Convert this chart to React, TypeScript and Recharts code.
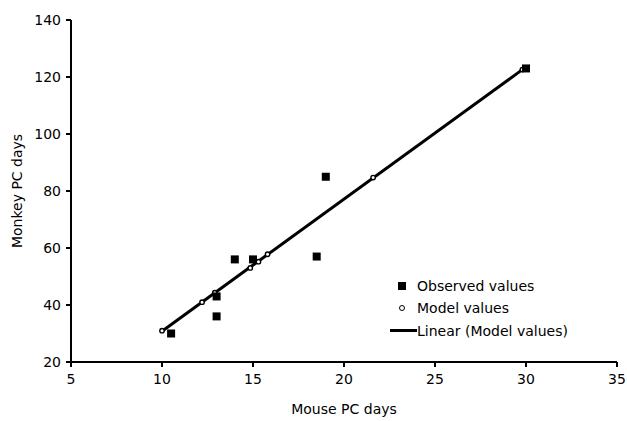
import React from 'react';
import {
    ScatterChart,
    Scatter,
    XAxis,
    YAxis
} from 'recharts';

// Observed (filled squares)
const observedX = [10.5, 13, 13, 14, 15, 18.5, 19, 30];
const observedY = [30, 36, 43, 56, 56, 57, 85, 123];

// Model values (small open circles on the trend line)
const modelX = [10, 12.2, 12.9, 14.85, 15.3, 15.8, 21.6, 29.8];
const modelY = [31, 41, 44.3, 53, 55.2, 57.8, 84.7, 122.6];

const xTicks = [5, 10, 15, 20, 25, 30, 35];
const yTicks = [20, 40, 60, 80, 100, 120, 140];

const FONT = '"DejaVu Sans", Verdana, sans-serif';

const observed = observedX.map((x, i) => ({ x, y: observedY[i] }));
const model = modelX.map((x, i) => ({ x, y: modelY[i] }));

// least squares fit of the model values -> "Linear (Model values)"
function trend() {
    const n = modelX.length;
    const mx = modelX.reduce((a, b) => a + b, 0) / n;
    const my = modelY.reduce((a, b) => a + b, 0) / n;
    let num = 0;
    let den = 0;
    modelX.forEach((x, i) => {
        num += (x - mx) * (modelY[i] - my);
        den += (x - mx) * (x - mx);
    });
    const slope = num / den;
    const b = my - slope * mx;
    const x0 = Math.min(...modelX);
    const x1 = Math.max(...modelX);
    return [
        { x: x0, y: slope * x0 + b },
        { x: x1, y: slope * x1 + b }
    ];
}
const trendData = trend();

const SquareDot = (props: any) => {
    const { cx, cy } = props;
    if (cx == null || cy == null) return <g />;
    return <rect x={cx - 4} y={cy - 4} width={8} height={8} fill="#000" />;
};

const CircleDot = (props: any) => {
    const { cx, cy } = props;
    if (cx == null || cy == null) return <g />;
    return <circle cx={cx} cy={cy} r={2.2} fill="#fff" stroke="#000" strokeWidth={1.4} />;
};

const NoDot = () => <g />;

function LegendBox() {
    const row = { display: 'flex', alignItems: 'center', height: 22.3 } as React.CSSProperties;
    const mark = { width: 30, display: 'flex', justifyContent: 'center', alignItems: 'center' } as React.CSSProperties;
    return (
        <div style={{ position: 'absolute', left: 387, top: 275, fontFamily: FONT, fontSize: 14, color: '#000', lineHeight: '22px' }}>
            <div style={row}>
                <div style={mark}><div style={{ width: 8, height: 8, background: '#000' }} /></div>
                <span>Observed values</span>
            </div>
            <div style={row}>
                <div style={mark}>
                    <div style={{ width: 4, height: 4, border: '1.3px solid #000', borderRadius: '50%' }} />
                </div>
                <span>Model values</span>
            </div>
            <div style={row}>
                <div style={mark}><div style={{ width: 27, height: 2.5, background: '#000', marginLeft: 3 }} /></div>
                <span>Linear (Model values)</span>
            </div>
        </div>
    );
}

export default function App() {
    return (
        <div style={{ position: 'absolute', left: 0, top: 0, width: 627, height: 421, background: '#fff' }}>
            <ScatterChart
                width={627}
                height={421}
                margin={{ top: 20, right: 10, left: 11, bottom: 29 }}
            >
                <XAxis
                    type="number"
                    dataKey="x"
                    domain={[5, 35]}
                    ticks={xTicks}
                    interval={0}
                    allowDataOverflow
                    height={30}
                    stroke="#000"
                    strokeWidth={2}
                    tickSize={5}
                    tick={{ fill: '#000', fontSize: 14, fontFamily: FONT, dy: 5 }}
                    label={{ value: 'Mouse PC days', position: 'insideBottom', offset: -22, fill: '#000', fontSize: 14, fontFamily: FONT }}
                />
                <YAxis
                    type="number"
                    dataKey="y"
                    domain={[20, 140]}
                    ticks={yTicks}
                    interval={0}
                    allowDataOverflow
                    width={60}
                    stroke="#000"
                    strokeWidth={2}
                    tickSize={5}
                    tick={{ fill: '#000', fontSize: 14, fontFamily: FONT, dx: -3 }}
                    label={{ value: 'Monkey PC days', angle: -90, position: 'insideLeft', offset: 6, fill: '#000', fontSize: 14, fontFamily: FONT, style: { textAnchor: 'middle' } }}
                />
                <Scatter
                    name="Linear (Model values)"
                    data={trendData}
                    line={{ stroke: '#000', strokeWidth: 3 }}
                    shape={NoDot}
                    isAnimationActive={false}
                />
                <Scatter
                    name="Model values"
                    data={model}
                    shape={CircleDot}
                    isAnimationActive={false}
                />
                <Scatter
                    name="Observed values"
                    data={observed}
                    shape={SquareDot}
                    isAnimationActive={false}
                />
            </ScatterChart>
            <LegendBox />
        </div>
    );
}
